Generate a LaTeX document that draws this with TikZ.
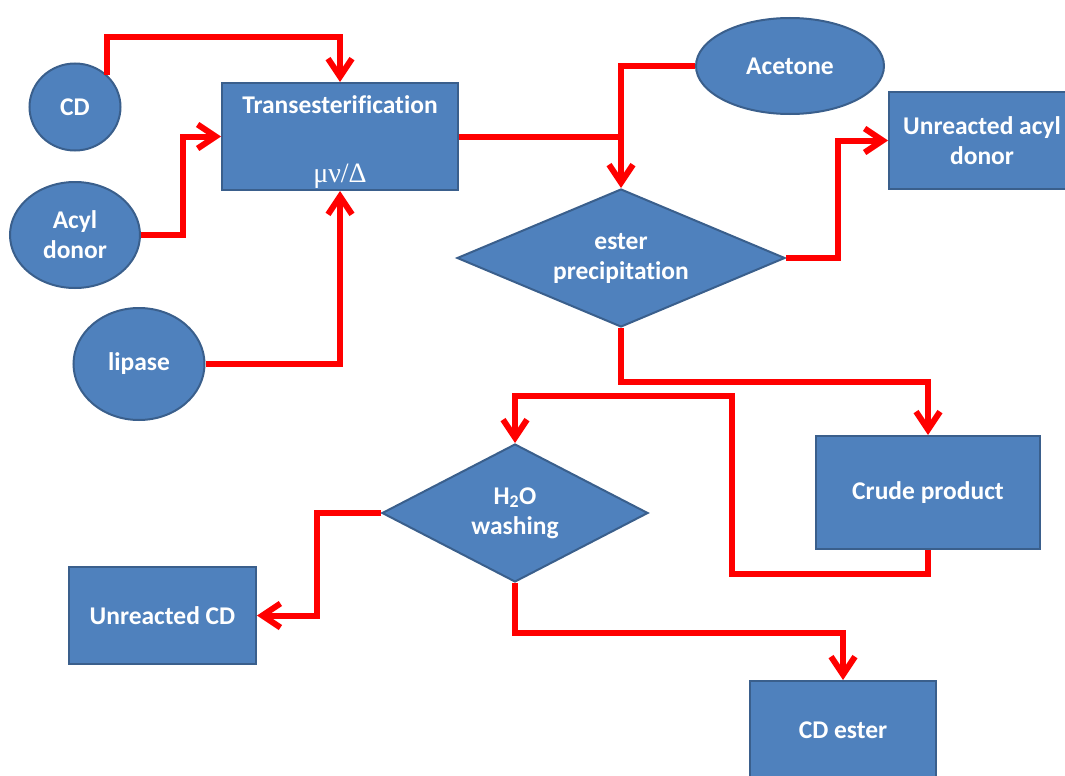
\documentclass[tikz,border=0pt]{standalone}
\usepackage{fontspec}
\setmainfont{Carlito}[Ligatures=NoCommon]
\newfontfamily\greekfont{Liberation Serif}
\usetikzlibrary{arrows.meta,shapes.geometric}
\definecolor{boxblue}{HTML}{4F81BD}
\definecolor{boxedge}{HTML}{3A5F8C}
\tikzset{
  shape base/.style={draw=boxedge, fill=boxblue, line width=2pt, text=white,
    inner sep=0pt, align=center,
    font=\bfseries\fontsize{25.5}{30}\selectfont},
  blob/.style={shape base, ellipse},
  stepbox/.style={shape base, rectangle},
  decision/.style={shape base, diamond, aspect=2},
  pipe/.style={draw=red, line width=6pt},
  flow/.style={pipe, -{Straight Barb[length=18pt,width=24pt]}}
}
\begin{document}
\begin{tikzpicture}[x=1pt,y=-1pt]
  \useasboundingbox (0,0) rectangle (1065,776);
  \clip (0,0) rectangle (1065,776);
  % inputs
  \node [blob, minimum width=91, minimum height=87] (cd) at (75,107) {CD};
  \node [blob, minimum width=130, minimum height=106] (acyl) at (75,235)
    {Acyl\\donor};
  \node [blob, minimum width=131, minimum height=112] (lipase) at (139,364)
    {lipase};
  \node [blob, minimum width=188, minimum height=96] (acetone) at (790,66)
    {Acetone};
  % process steps
  \node [stepbox, minimum width=236, minimum height=107] (trans) at (340,136.5)
    {\rule{0pt}{28pt}Transesterification\\[39pt]%
     {\mdseries\greekfont\fontsize{28}{30}\selectfont μν/Δ}};
  \node [decision, minimum width=328, minimum height=138] (ester) at (621,258)
    {ester\\precipitation};
  \node [decision, minimum width=266, minimum height=138] (wash) at (515,513)
    {H\textsubscript{2}O\\washing};
  % products
  \node [stepbox, minimum width=186, minimum height=97] (unacyl) at (982,140.5)
    {Unreacted acyl\\donor};
  \node [stepbox, minimum width=224, minimum height=113] (crude) at (928,492.5)
    {Crude product};
  \node [stepbox, minimum width=187, minimum height=97] (uncd) at (162.5,615.5)
    {Unreacted CD};
  \node [stepbox, minimum width=186, minimum height=98] (cdester) at (843,730)
    {CD ester};
  % connectors
  \draw [flow] (cd.45) |- ([yshift=45pt]trans.north) -- (trans.north);
  \draw [flow] (acyl.east) -- ++(42,0) |- (trans.west);
  \draw [flow] (lipase.east) -| (trans.south);
  \draw [pipe] (trans.east) -- (trans.east -| ester.north);
  \draw [flow] (acetone.west) -| (ester.north);
  \draw [flow] (ester.east) -- ++(52,0) |- (unacyl.west);
  \draw [flow] (ester.south) -- ++(0,54) -| (crude.north);
  \draw [flow] (crude.south) -- ++(0,24) -- ++(-196,0)
    |- ([yshift=47pt]wash.north) -- (wash.north);
  \draw [flow] (wash.west) -- ++(-64,0) |- (uncd.east);
  \draw [flow] (wash.south) -- ++(0,50) -| (cdester.north);
\end{tikzpicture}
\end{document}
